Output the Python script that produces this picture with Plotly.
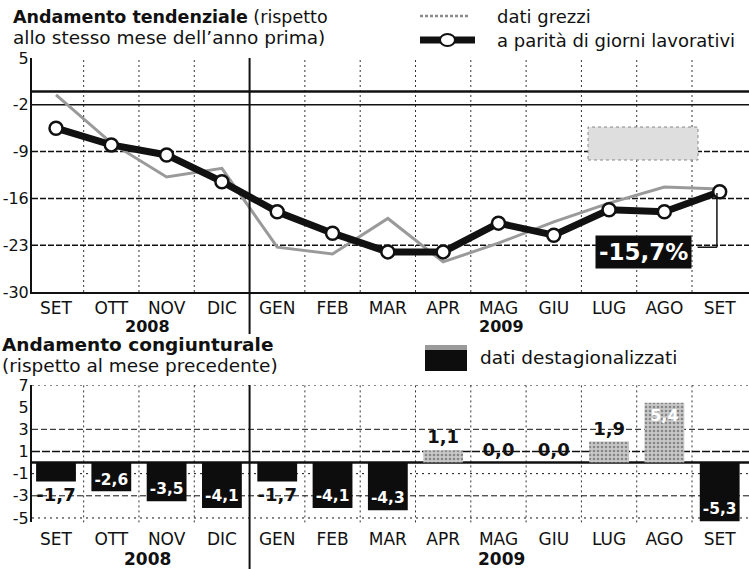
import plotly.graph_objects as go

# ---------------- data ----------------
months = ["SET", "OTT", "NOV", "DIC", "GEN", "FEB", "MAR", "APR", "MAG", "GIU", "LUG", "AGO", "SET"]
dati_grezzi = [-0.5, -7.7, -12.8, -11.5, -23.3, -24.3, -19.0, -25.5, -22.7, -19.5, -16.7, -14.3, -14.6]
giorni_lavorativi = [-5.5, -8.0, -9.5, -13.5, -18.0, -21.2, -24.0, -24.0, -19.7, -21.5, -17.7, -18.0, -15.0]
destagionalizzati = [-1.7, -2.6, -3.5, -4.1, -1.7, -4.1, -4.3, 1.1, 0.0, 0.0, 1.9, 5.4, -5.3]
top_ticks = [5, -2, -9, -16, -23, -30]
bottom_ticks = [7, 5, 3, 1, -1, -3, -5]
years = ["2008", "2009"]
year_pos = [1.65, 8.05]
last_label = "-15,7%"

W, H = 749, 569
FONT = "DejaVu Sans"


def px(p):
    return p / W


def py(p):
    return 1 - p / H


idx = list(range(len(months)))
xr = [-0.434, 12.53]

fig = go.Figure()

# top chart lines
fig.add_trace(go.Scatter(
    x=idx, y=dati_grezzi, mode="lines", xaxis="x", yaxis="y",
    line=dict(color="#9a9a9a", width=3), showlegend=False, hoverinfo="skip"))
fig.add_trace(go.Scatter(
    x=idx, y=giorni_lavorativi, mode="lines+markers", xaxis="x", yaxis="y",
    line=dict(color="#111111", width=7),
    marker=dict(symbol="circle", size=13, color="white", line=dict(color="#111111", width=2.5)),
    showlegend=False, hoverinfo="skip"))

# bottom chart bars
labels = [("%.1f" % v).replace(".", ",") for v in destagionalizzati]
positions = []
for i, v in enumerate(destagionalizzati):
    if 0 <= v < 3:
        positions.append("outside")
    elif -2 < v < 0:
        positions.append("outside")
    else:
        positions.append("inside")
txt_colors = ["#111111" if p == "outside" else "white" for p in positions]
txt_sizes = [18 if p == "outside" else 16 for p in positions]
bar_colors = ["#0d0d0d" if v < 0 else "#c8c8c8" for v in destagionalizzati]
pat_shapes = ["" if v < 0 else "." for v in destagionalizzati]

fig.add_trace(go.Bar(
    x=idx, y=destagionalizzati, xaxis="x2", yaxis="y2", width=0.72,
    marker=dict(color=bar_colors, line=dict(width=0),
                pattern=dict(shape=pat_shapes, fgcolor="#444444", bgcolor=bar_colors,
                             size=4, solidity=0.35)),
    text=labels, textposition=positions, insidetextanchor="end", textangle=0,
    textfont=dict(family=FONT, size=txt_sizes, color=txt_colors, weight="bold"),
    cliponaxis=False, showlegend=False, hoverinfo="skip"))

shapes = []
# ---- grids ----
for k in range(12):
    xv = k + 0.5
    if k == 3:
        continue
    shapes.append(dict(type="line", xref="x", yref="y domain", x0=xv, x1=xv, y0=0, y1=1,
                       line=dict(color="#333333", width=1, dash="2px,3px"), layer="below"))
    shapes.append(dict(type="line", xref="x2", yref="y2 domain", x0=xv, x1=xv, y0=0, y1=1,
                       line=dict(color="#333333", width=1, dash="2px,3px"), layer="below"))
shapes.append(dict(type="line", xref="x", yref="paper", x0=3.5, x1=3.5, y0=py(334), y1=py(58),
                   line=dict(color="#111111", width=2)))
shapes.append(dict(type="line", xref="x2", yref="paper", x0=3.5, x1=3.5, y0=0, y1=py(385),
                   line=dict(color="#111111", width=2)))

top_h = [(0, "solid", 2.5), (-2, "solid", 1.5), (-9, "6px,2px", 1.5), (-16, "6px,2px", 1.5),
         (-23, "6px,2px", 1.5)]
for yv, dash, wdt in top_h:
    shapes.append(dict(type="line", xref="x domain", yref="y", x0=0, x1=1, y0=yv, y1=yv,
                       line=dict(color="#111111", width=wdt, dash=dash), layer="below"))

bot_h = [(7, "2px,4px", 1), (3, "6px,3px", 1), (1, "8px,2px", 1.5), (0, "solid", 2.5),
         (-1, "2px,4px", 1), (-3, "6px,3px", 1), (-5, "2px,4px", 1)]
for yv, dash, wdt in bot_h:
    shapes.append(dict(type="line", xref="x2 domain", yref="y2", x0=0, x1=1, y0=yv, y1=yv,
                       line=dict(color="#111111", width=wdt, dash=dash), layer="below"))

# faded grey box in top chart
shapes.append(dict(type="rect", xref="paper", yref="paper", x0=px(588), x1=px(698),
                   y0=py(160), y1=py(127), fillcolor="#dedede",
                   line=dict(color="#888888", width=1, dash="dot"), layer="below"))

# bracket for last value
shapes.append(dict(type="line", xref="x", yref="y", x0=11.95, x1=11.95, y0=giorni_lavorativi[-1] - 0.2,
                   y1=-23.3, line=dict(color="#111111", width=1.5)))
shapes.append(dict(type="line", xref="x", yref="y", x0=11.6, x1=11.95, y0=-23.3, y1=-23.3,
                   line=dict(color="#111111", width=1.5)))

# legends
shapes.append(dict(type="line", xref="paper", yref="paper", x0=px(420), x1=px(470), y0=py(16), y1=py(16),
                   line=dict(color="#8a8a8a", width=2.5, dash="3px,2px")))
shapes.append(dict(type="line", xref="paper", yref="paper", x0=px(420), x1=px(475), y0=py(40), y1=py(40),
                   line=dict(color="#111111", width=7)))
shapes.append(dict(type="circle", xref="paper", yref="paper", x0=px(440), x1=px(455), y0=py(46), y1=py(34),
                   fillcolor="white", line=dict(color="#111111", width=2)))
shapes.append(dict(type="rect", xref="paper", yref="paper", x0=px(425), x1=px(467), y0=py(371), y1=py(345),
                   fillcolor="#0d0d0d", line=dict(width=0)))
shapes.append(dict(type="rect", xref="paper", yref="paper", x0=px(425), x1=px(467), y0=py(350), y1=py(345),
                   fillcolor="#9a9a9a", line=dict(width=0)))

ann = []


def txt(x, y, s, size=18, xanchor="left", xref="paper", color="#111111"):
    ann.append(dict(x=x, y=y, xref=xref, yref="paper", text=s, showarrow=False,
                    xanchor=xanchor, yanchor="middle",
                    font=dict(family=FONT, size=size, color=color)))


txt(px(11), py(17), "<b>Andamento tendenziale</b> (rispetto", size=17.5)
txt(px(11), py(38), "allo stesso mese dell\u2019anno prima)", size=18.5)
txt(px(495), py(16), "dati grezzi", size=18)
txt(px(495), py(40), "a parità di giorni lavorativi", size=18)
txt(px(0), py(344), "<b>Andamento congiunturale</b>", size=18.5)
txt(px(0), py(365), "(rispetto al mese precedente)", size=18.5)
txt(px(478), py(357), "dati destagionalizzati", size=18.5)
for yr, xp in zip(years, year_pos):
    txt(xp, py(326), "<b>%s</b>" % yr, size=16, xanchor="center", xref="x")
    txt(xp, py(559), "<b>%s</b>" % yr, size=17, xanchor="center", xref="x2")

ann.append(dict(x=10.62, y=-24.0, xref="x", yref="y", text="<b>%s</b>" % last_label, showarrow=False,
                xanchor="center", yanchor="middle", bgcolor="#0d0d0d", borderpad=3,
                font=dict(family=FONT, size=23, color="white")))

tickfont = dict(family=FONT, size=17, color="#111111")
ytickfont = dict(family=FONT, size=16, color="#111111")

fig.update_layout(
    width=W, height=H, margin=dict(l=0, r=0, t=0, b=0, autoexpand=False),
    paper_bgcolor="white", plot_bgcolor="white",
    xaxis=dict(domain=[px(32), 1], range=xr, tickvals=idx, ticktext=months, tickfont=tickfont,
               ticks="", ticklabelstandoff=0, showgrid=False, zeroline=False, automargin=False,
               showline=True, linecolor="#111111", linewidth=2, anchor="y", fixedrange=True),
    yaxis=dict(domain=[py(292), py(58)], range=[-30, 5], tickvals=top_ticks,
               ticktext=[str(t) for t in top_ticks], tickfont=ytickfont, ticks="",
               ticklabelstandoff=-2, automargin=False,
               showgrid=False, zeroline=False, showline=True,
               linecolor="#111111", linewidth=2, anchor="x"),
    xaxis2=dict(domain=[px(32), 1], range=xr, tickvals=idx, ticktext=months, tickfont=tickfont,
                ticks="", ticklabelstandoff=5, showgrid=False, zeroline=False, automargin=False,
                showline=False, anchor="y2"),
    yaxis2=dict(domain=[py(522.4), py(385)], range=[-5.4, 7], tickvals=bottom_ticks,
                ticktext=[str(t) for t in bottom_ticks], tickfont=ytickfont, ticks="",
                ticklabelstandoff=-2, automargin=False,
                showgrid=False, zeroline=False, showline=True,
                linecolor="#111111", linewidth=2, anchor="x2"),
    shapes=shapes, annotations=ann, bargap=0.28,
)

fig.write_html("out.html", config={"displayModeBar": False},
               post_script="document.body.style.margin='0';document.body.style.overflow='hidden';")
